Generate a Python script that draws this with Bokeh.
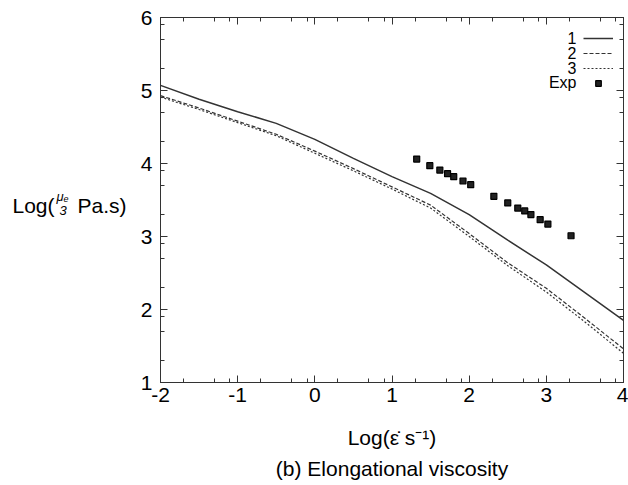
from bokeh.plotting import figure
from bokeh.layouts import row, column
from bokeh.models import Range1d, FixedTicker, LinearAxis, Label, Legend, LegendItem
from bokeh.embed import file_html
from bokeh.resources import INLINE

# ---- data ----
x_curve = [-2, -1.5, -1, -0.5, 0, 0.5, 1, 1.5, 2, 2.5, 3, 3.5, 4]
s1 = [5.07, 4.88, 4.71, 4.55, 4.33, 4.07, 3.82, 3.59, 3.30, 2.95, 2.61, 2.23, 1.85]
s2 = [4.93, 4.76, 4.58, 4.40, 4.17, 3.93, 3.68, 3.43, 3.04, 2.64, 2.29, 1.88, 1.46]
s3 = [4.91, 4.74, 4.56, 4.38, 4.14, 3.90, 3.65, 3.39, 3.00, 2.60, 2.24, 1.83, 1.40]
x_exp = [1.32, 1.49, 1.62, 1.72, 1.80, 1.92, 2.02, 2.32, 2.50, 2.63, 2.72, 2.80, 2.92, 3.02, 3.32]
y_exp = [4.06, 3.97, 3.91, 3.86, 3.82, 3.76, 3.71, 3.55, 3.46, 3.39, 3.35, 3.30, 3.23, 3.17, 3.01]
x_ticks = [-2, -1, 0, 1, 2, 3, 4]
y_ticks = [1, 2, 3, 4, 5, 6]
minor_offsets = [0.3, 0.7, 0.9]
legend_names = ["1", "2", "3", "Exp"]

FONT = "Liberation Sans"
LC = "#333333"

W, H = 628, 485
LW = 136            # width of the left text strip
MH = 420            # height of the main figure
L, R, T, B = 160, 623, 17, 382   # frame in page pixels

p = figure(width=W - LW, height=MH, output_backend="svg", toolbar_location=None,
           x_range=Range1d(-2, 4), y_range=Range1d(1, 6),
           min_border_left=L - LW, min_border_right=W - R, min_border_top=T,
           min_border_bottom=MH - B, x_axis_location=None, y_axis_location=None)
p.grid.visible = False
p.outline_line_color = LC
p.outline_line_width = 1
p.background_fill_color = "white"
p.border_fill_color = "white"

x_minor = [k + o for k in x_ticks[:-1] for o in minor_offsets]
y_minor = [k + o for k in y_ticks[:-1] for o in minor_offsets]


def mk_axis(ticks, minor, show_labels):
    ax = LinearAxis(ticker=FixedTicker(ticks=ticks, minor_ticks=minor))
    ax.axis_line_color = LC
    ax.major_tick_line_color = LC
    ax.minor_tick_line_color = LC
    ax.major_tick_in = 7
    ax.major_tick_out = 0
    ax.minor_tick_in = 4
    ax.minor_tick_out = 0
    ax.major_label_text_font = FONT
    ax.major_label_text_font_size = "21px" if show_labels else "0px"
    ax.major_label_text_color = "black"
    ax.major_label_overrides = {t: (str(t) if show_labels else "") for t in ticks}
    ax.major_label_standoff = 0
    return ax


bx = mk_axis(x_ticks, x_minor, True)
bx.major_label_standoff = 5
p.add_layout(bx, "below")
lx = mk_axis(y_ticks, y_minor, True)
lx.major_label_standoff = 8
p.add_layout(lx, "left")
p.add_layout(mk_axis(x_ticks, x_minor, False), "above")
p.add_layout(mk_axis(y_ticks, y_minor, False), "right")

r1 = p.line(x_curve, s1, line_color=LC, line_width=1.5)
r2 = p.line(x_curve, s2, line_color=LC, line_width=1.2, line_dash="4 2")
r3 = p.line(x_curve, s3, line_color=LC, line_width=1.2, line_dash="2 2")
r4 = p.scatter(x_exp, y_exp, marker="square", size=6, fill_color="#222222",
               line_color="black", line_width=1.2)

# legend (samples right of texts, as in gnuplot)
leg = Legend(items=[LegendItem(label=" ", renderers=[r]) for r in (r1, r2, r3, r4)],
             location=(423, 292), glyph_width=30, glyph_height=14,
             label_width=1, label_height=14, spacing=1, padding=0, margin=0,
             border_line_color=None, background_fill_alpha=0,
             label_text_font_size="1px")
p.add_layout(leg)


def lab(fig, px, py, text, size, **kw):
    # px, py: pixel position inside fig, measured from its top-left
    fig.add_layout(Label(x=px, y=py, x_units="canvas", y_units="canvas",
                         text=text, text_font=FONT, text_font_size=size,
                         text_color="black", **kw))


for i, name in enumerate(legend_names):
    lab(p, 576 - LW, 37 + 15 * i, name, "16px", text_align="right",
        text_baseline="middle")


def blank(w, h):
    f = figure(width=w, height=h, output_backend="svg", toolbar_location=None,
               x_range=Range1d(0, 1), y_range=Range1d(0, 1), min_border=0,
               x_axis_location=None, y_axis_location=None)
    f.grid.visible = False
    f.outline_line_color = None
    f.background_fill_color = "white"
    f.border_fill_color = "white"
    return f


# left strip: y axis label  Log(mu_e/3 Pa.s)
left = blank(LW, H)
lab(left, 12, 205, "Log(", "21px", text_baseline="alphabetic")
lab(left, 56, 196, "μ", "13px", text_font_style="italic", text_baseline="alphabetic")
lab(left, 63, 198, "e", "9px", text_font_style="italic", text_baseline="alphabetic")
lab(left, 59, 210, "3", "13px", text_font_style="italic", text_baseline="alphabetic")
lab(left, 77, 205, " Pa.s)", "21px", text_baseline="alphabetic")

# bottom strip: x axis label and caption
bottom = blank(W - LW, H - MH)
cx = (L + R) / 2 - LW
lab(bottom, cx, 437 - MH, "Log(ε̇ s⁻¹)", "21px", text_align="center",
    text_baseline="middle")
lab(bottom, cx, 468 - MH, "(b) Elongational viscosity", "21px", text_align="center",
    text_baseline="middle")

layout = row(left, column(p, bottom, spacing=0), spacing=0)
open("out.html", "w").write(file_html(layout, INLINE))
